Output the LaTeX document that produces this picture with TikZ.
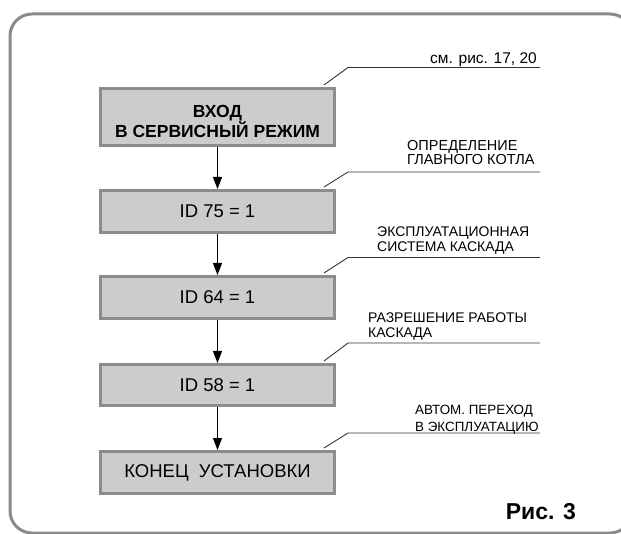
\documentclass[tikz,border=0pt]{standalone}
\usepackage{fontspec}
\setmainfont{Liberation Sans}
\usetikzlibrary{arrows.meta}
\definecolor{framegray}{HTML}{8A8A8A}
\definecolor{boxfill}{HTML}{CCCCCC}
\definecolor{boxline}{HTML}{8C8C8C}
\definecolor{leadcol}{HTML}{333333}
\tikzset{
  stepbox/.style={draw=boxline, fill=boxfill, line width=3pt, minimum width=234pt, inner sep=0pt, font=\fontsize{18.5}{22}\selectfont},
  flowarrow/.style={line width=1pt, -{Triangle[length=12pt,width=9pt]}},
  leader/.style={draw=leadcol, line width=0.9pt},
  note/.style={inner sep=0pt, align=left, anchor=north west},
}
\begin{document}
\begin{tikzpicture}[x=1pt,y=-1pt]
\useasboundingbox (0,0) rectangle (621,534);
\draw[framegray, line width=3pt, rounded corners=22pt] (10,14) rectangle (632,533);

\node[stepbox, minimum height=57pt] (b1) at (217.5,117) {};
\node[inner sep=0pt, align=center, anchor=north, font=\bfseries\fontsize{17.5}{18}\selectfont] (t1) at (217.5,105) {ВХОД\\В СЕРВИСНЫЙ РЕЖИМ};
\node[stepbox, minimum height=42pt] (b2) at (217.5,211.5) {ID 75 = 1};
\node[stepbox, minimum height=42pt] (b3) at (217.5,297.5) {ID 64 = 1};
\node[stepbox, minimum height=41pt] (b4) at (217.5,385) {ID 58 = 1};
\node[stepbox, minimum height=42pt] (b5) at (217.5,472.5) {КОНЕЦ\ \ УСТАНОВКИ};

\draw[flowarrow] (b1.south) -- (b2.north);
\draw[flowarrow] (b2.south) -- (b3.north);
\draw[flowarrow] (b3.south) -- (b4.north);
\draw[flowarrow] (b4.south) -- (b5.north);

\coordinate (k1) at (348,67.5);  \coordinate (e1) at (540,67.5);
\coordinate (k2) at (348,172);   \coordinate (e2) at (540,172);
\coordinate (k3) at (348,257.5); \coordinate (e3) at (540,257.5);
\coordinate (k4) at (348,343);   \coordinate (e4) at (540,343);
\coordinate (k5) at (348,433);   \coordinate (e5) at (540,433);

\draw[leader] ([xshift=-12pt,yshift=2pt]b1.north east) -- (k1) -- (e1);
\draw[leader] ([xshift=-12pt,yshift=2pt]b2.north east) -- (k2) -- (e2);
\draw[leader] ([xshift=-12pt,yshift=2pt]b3.north east) -- (k3) -- (e3);
\draw[leader] ([xshift=-12pt,yshift=2pt]b4.north east) -- (k4) -- (e4);
\draw[leader] ([xshift=-12pt,yshift=2pt]b5.north east) -- (k5) -- (e5);

\node[inner sep=0pt, anchor=base east, font=\fontsize{15.5}{16}\selectfont] (n1) at (537,64) {см. рис. 17, 20};
\node[note, font=\fontsize{14.5}{13}\selectfont] (n2) at (407,140) {ОПРЕДЕЛЕНИЕ\\ГЛАВНОГО КОТЛА};
\node[note, font=\fontsize{14}{15}\selectfont] (n3) at (377,227) {ЭКСПЛУАТАЦИОННАЯ\\СИСТЕМА КАСКАДА};
\node[note, font=\fontsize{14}{15}\selectfont] (n4) at (368,313) {РАЗРЕШЕНИЕ РАБОТЫ\\КАСКАДА};
\node[note, font=\fontsize{13.4}{17}\selectfont] (n5) at (415,405) {АВТОМ. ПЕРЕХОД\\В ЭКСПЛУАТАЦИЮ};

\node[inner sep=0pt, anchor=base east, font=\bfseries\fontsize{23}{26}\selectfont] (fig) at (576,519) {Рис. 3};
\end{tikzpicture}
\end{document}
